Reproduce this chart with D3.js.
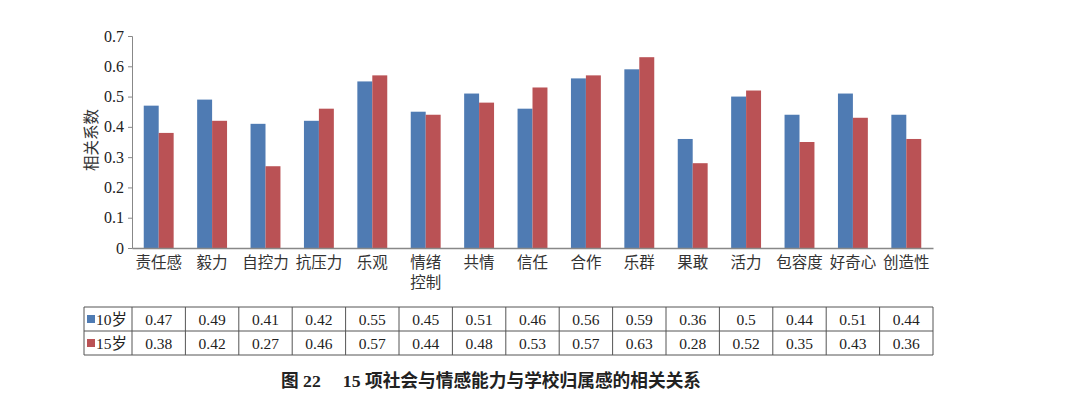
<!DOCTYPE html>
<html><head><meta charset="utf-8">
<script src="https://cdn.jsdelivr.net/npm/d3@7"></script>
<style>body{margin:0;background:#fff}svg{display:block}</style>
</head><body><svg id="c" width="1080" height="410"></svg>
<script>
const categories = ["责任感","毅力","自控力","抗压力","乐观","情绪\n控制","共情","信任","合作","乐群","果敢","活力","包容度","好奇心","创造性"];
const seriesNames = ["10岁","15岁"];
const age10 = [0.47,0.49,0.41,0.42,0.55,0.45,0.51,0.46,0.56,0.59,0.36,0.5,0.44,0.51,0.44];
const age15 = [0.38,0.42,0.27,0.46,0.57,0.44,0.48,0.53,0.57,0.63,0.28,0.52,0.35,0.43,0.36];
const yTicks = [0,0.1,0.2,0.3,0.4,0.5,0.6,0.7];
const yTickLabels = ["0","0.1","0.2","0.3","0.4","0.5","0.6","0.7"];
const colors = ["#4F7BB3","#BA5255"];
const series = [age10, age15];

(function(){
const svg = d3.select("#c");
const pLeft = 132, pRight = 933, pTop = 36, pBottom = 248;
const x = d3.scaleBand().domain(categories).range([pLeft, pRight]).paddingInner(0.44).paddingOuter(0.22);
const xs = d3.scaleBand().domain([0,1]).range([0, x.bandwidth()]);
const y = d3.scaleLinear().domain([0,0.7]).range([pBottom, pTop]);
const serif = "'Liberation Serif','Times New Roman','Noto Sans CJK SC',serif";
const cjk = "'Noto Sans CJK SC',sans-serif";

series.forEach((vals, si) => {
  svg.append("g").selectAll("rect").data(vals).join("rect")
    .attr("x", (d,i) => x(categories[i]) + xs(si))
    .attr("y", d => y(d))
    .attr("width", xs.bandwidth())
    .attr("height", d => y(0) - y(d))
    .attr("fill", colors[si]);
});

const yAxis = svg.append("g").attr("transform", `translate(${pLeft},0)`)
  .call(d3.axisLeft(y).tickValues(yTicks).tickFormat((d,i) => yTickLabels[i]).tickSize(4).tickPadding(4));
yAxis.select(".domain").attr("stroke", "#888");
yAxis.selectAll(".tick line").attr("stroke", "#888");
yAxis.selectAll("text").attr("font-family", serif).attr("font-size", 16).attr("fill", "#222");

const xAxis = svg.append("g").attr("transform", `translate(0,${pBottom})`)
  .call(d3.axisBottom(x).tickSize(0).tickFormat(""));
xAxis.select(".domain").attr("stroke", "#888").attr("stroke-width", 1.5);
xAxis.selectAll(".tick").each(function(d){
  const lines = d.split("\n");
  const t = d3.select(this).append("text").attr("fill", "#333").attr("font-family", cjk)
    .attr("font-size", 15.5).attr("text-anchor", "middle");
  lines.forEach((l, k) => t.append("tspan").attr("x", 0).attr("y", 20 + k*20).text(l));
});

svg.append("text").attr("transform", `translate(97,140) rotate(-90)`).attr("text-anchor","middle")
  .attr("font-family", cjk).attr("font-size", 15.5).attr("fill","#333").text("相关系数");

const tTop = 307, rowH = 24, tLeft = 84;
const tbl = svg.append("g");
const cols = [tLeft, ...categories.map(c => x(c) - x.step()*x.paddingInner()/2), pRight];
[tTop, tTop+rowH, tTop+2*rowH].forEach(yy => tbl.append("line").attr("x1", tLeft).attr("x2", pRight).attr("y1", yy).attr("y2", yy).attr("stroke", "#555"));
cols.forEach(xx => tbl.append("line").attr("x1", xx).attr("x2", xx).attr("y1", tTop).attr("y2", tTop+2*rowH).attr("stroke", "#555"));
series.forEach((vals, si) => {
  const cy = tTop + rowH*si + rowH/2;
  tbl.append("rect").attr("x", tLeft+3).attr("y", cy-4).attr("width", 8).attr("height", 8).attr("fill", colors[si]);
  tbl.append("text").attr("x", tLeft+12).attr("y", cy+5.5).attr("font-family", serif).attr("font-size", 15.5).attr("fill","#222")
    .text(seriesNames[si]);
  vals.forEach((v,i) => {
    tbl.append("text").attr("x", x(categories[i]) + x.bandwidth()/2).attr("y", cy+5.5)
      .attr("text-anchor","middle").attr("font-family", serif).attr("font-size", 15.5).attr("fill","#222").text(String(v));
  });
});

svg.append("text").attr("x", 491).attr("y", 387).attr("text-anchor","middle")
  .attr("font-family", serif).attr("font-weight", "bold").attr("font-size", 17.7).attr("fill","#222")
  .text("图 22\u2003 15 项社会与情感能力与学校归属感的相关关系");
})();
</script></body></html>
